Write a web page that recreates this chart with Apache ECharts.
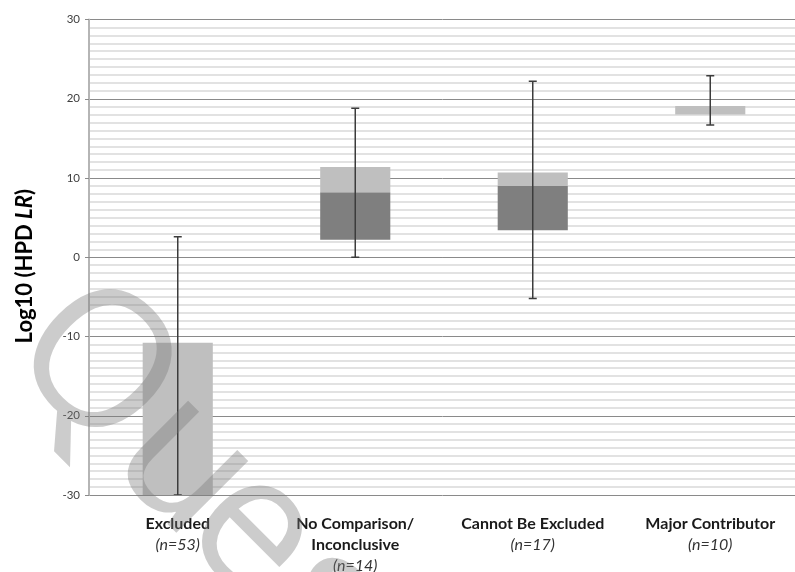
<!DOCTYPE html>
<html>
<head>
<meta charset="utf-8">
<script src="https://cdn.jsdelivr.net/npm/echarts@6/dist/echarts.min.js"></script>
<style>
  html, body { margin: 0; padding: 0; background: #ffffff; }
  #chart { width: 795px; height: 572px; }
</style>
</head>
<body>
<div id="chart"></div>
<script>
// Category names and sample sizes
const categories = ['Excluded', 'No Comparison/\nInconclusive', 'Cannot Be Excluded', 'Major Contributor'];
const sampleSizes = [53, 14, 17, 10];

// Distribution summary per category (log10 LR)
const whiskerLow  = [-30, 0.0, -5.2, 16.7];
const boxLow      = [-30, 2.2, 3.4, 18.0];
const medians     = [-30, 8.2, 9.0, 18.0];
const boxHigh     = [-10.8, 11.4, 10.7, 19.1];
const whiskerHigh = [2.6, 18.8, 22.2, 22.9];

// Value axis ticks
const yMin = -30, yMax = 30, yStep = 10;

const boxData = categories.map((c, i) => [i, whiskerLow[i], boxLow[i], medians[i], boxHigh[i], whiskerHigh[i]]);

const FONT = 'Lato, "Open Sans", sans-serif';
const DARK = '#7f7f7f';
const LIGHT = '#bfbfbf';
const WHISKER = '#3c3c3c';

function renderBox(params, api) {
  const x = api.value(0);
  const lo = api.coord([x, api.value(1)]);
  const q1 = api.coord([x, api.value(2)]);
  const md = api.coord([x, api.value(3)]);
  const q3 = api.coord([x, api.value(4)]);
  const hi = api.coord([x, api.value(5)]);
  const w = api.size([1, 0])[0] * 0.395;
  const cx = lo[0];
  const cap = 4;
  return {
    type: 'group',
    children: [
      { type: 'rect', shape: { x: cx - w / 2, y: md[1], width: w, height: q1[1] - md[1] }, style: { fill: DARK } },
      { type: 'rect', shape: { x: cx - w / 2, y: q3[1], width: w, height: md[1] - q3[1] }, style: { fill: LIGHT } },
      { type: 'line', shape: { x1: cx, y1: lo[1], x2: cx, y2: hi[1] }, style: { stroke: WHISKER, lineWidth: 1.5 } },
      { type: 'line', shape: { x1: cx - cap, y1: hi[1], x2: cx + cap, y2: hi[1] }, style: { stroke: WHISKER, lineWidth: 1.5 } },
      { type: 'line', shape: { x1: cx - cap, y1: lo[1], x2: cx + cap, y2: lo[1] }, style: { stroke: WHISKER, lineWidth: 1.5 } }
    ]
  };
}

// Diagonal watermark, one glyph per element so the spacing can be set freely
function watermarkGlyph(ch, x, y) {
  return {
    type: 'text',
    x: x,
    y: y,
    rotation: -Math.PI / 4,
    z: 100,
    silent: true,
    style: {
      text: ch,
      font: '190px "Open Sans", sans-serif',
      fill: 'rgba(120,120,120,0.38)',
      textAlign: 'center',
      textVerticalAlign: 'middle'
    }
  };
}

const chart = echarts.init(document.getElementById('chart'), null, { renderer: 'canvas' });

chart.setOption({
  animation: false,
  backgroundColor: '#ffffff',
  grid: { left: 89, right: -4, top: 19.5, bottom: 77, containLabel: false, outerBoundsMode: 'none' },
  xAxis: {
    type: 'category',
    data: categories,
    axisLine: { show: true, lineStyle: { color: '#8a8a8a', width: 1 } },
    axisTick: { show: false },
    splitLine: { show: false },
    axisLabel: {
      interval: 0,
      margin: 18,
      lineHeight: 21,
      formatter: function (value, idx) {
        const lines = value.split('\n').map(s => '{b|' + s + '}');
        return lines.join('\n') + '\n{i|(n=' + sampleSizes[idx] + ')}';
      },
      rich: {
        b: { fontFamily: FONT, fontWeight: 'bold', fontSize: 16, color: '#1a1a1a', lineHeight: 21 },
        i: { fontFamily: FONT, fontStyle: 'italic', fontSize: 16, color: '#333333', lineHeight: 21 }
      }
    }
  },
  yAxis: {
    type: 'value',
    min: yMin,
    max: yMax,
    interval: yStep,
    name: '{b|Log10 (HPD }{i|LR}{b|)}',
    nameLocation: 'middle',
    nameGap: 53,
    nameTextStyle: {
      padding: [0, 18, 0, 0],
      rich: {
        b: { fontFamily: FONT, fontWeight: 'bold', fontSize: 22, color: '#000000' },
        i: { fontFamily: FONT, fontWeight: 'bold', fontStyle: 'italic', fontSize: 22, color: '#000000' }
      }
    },
    axisLine: { show: true, lineStyle: { color: '#b5b5b5', width: 2 } },
    axisTick: { show: true, inside: false, length: 4, lineStyle: { color: '#8a8a8a' } },
    axisLabel: { margin: 9, fontFamily: FONT, fontSize: 11.5, color: '#404040' },
    splitLine: { show: true, lineStyle: { color: '#8a8a8a', width: 1 } },
    minorTick: { show: false, splitNumber: 10 },
    minorSplitLine: { show: true, lineStyle: { color: '#e2e2e2', width: 2 } }
  },
  series: [{
    type: 'custom',
    renderItem: renderBox,
    data: boxData,
    clip: true,
    encode: { x: 0, y: [1, 2, 3, 4, 5] },
    z: 3
  }],
  graphic: [
    watermarkGlyph('Q', 93, 368),
    watermarkGlyph('u', 185, 465),
    watermarkGlyph('e', 253, 532),
    watermarkGlyph('s', 325, 606)
  ]
});
</script>
</body>
</html>
